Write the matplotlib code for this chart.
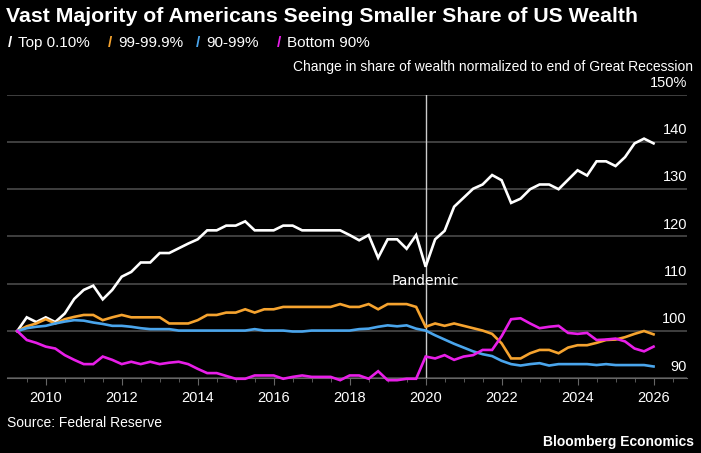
import matplotlib
matplotlib.use("Agg")
import matplotlib.pyplot as plt
import matplotlib.transforms as mtransforms
import numpy as np

# quarterly, 2009Q2 .. 2026Q1 (index 100 = end of Great Recession)
start_year = 2009.25
top_01 = [100, 102.9, 101.9, 102.9, 101.9, 103.7, 106.8, 108.7, 109.6, 106.7,
          108.7, 111.5, 112.5, 114.5, 114.5, 116.5, 116.5, 117.5, 118.5, 119.4,
          121.3, 121.3, 122.3, 122.3, 123.2, 121.3, 121.3, 121.3, 122.3, 122.3,
          121.3, 121.3, 121.3, 121.3, 121.3, 120.3, 119.2, 120.3, 115.5, 119.4,
          119.4, 117.4, 120.3, 113.6, 119.4, 121.2, 126.3, 128.2, 130.1, 131.0,
          133.0, 131.9, 127.1, 128.0, 130.0, 131.0, 131.0, 130.0, 132.0, 134.0,
          132.9, 135.9, 135.9, 134.9, 136.8, 139.7, 140.7, 139.7]
p99_999 = [100, 101.0, 101.6, 102.5, 101.6, 102.5, 103.0, 103.4, 103.4, 102.3,
           102.9, 103.4, 102.9, 102.9, 102.9, 102.9, 101.6, 101.6, 101.6, 102.3,
           103.4, 103.4, 103.9, 103.9, 104.6, 103.9, 104.6, 104.6, 105.1, 105.1,
           105.1, 105.1, 105.1, 105.1, 105.7, 105.1, 105.1, 105.7, 104.6, 105.7,
           105.7, 105.7, 105.1, 100.9, 101.6, 101.1, 101.6, 101.1, 100.6, 100.1,
           99.4, 97.4, 94.2, 94.2, 95.3, 96.0, 96.0, 95.3, 96.5, 97.0,
           97.0, 97.5, 98.1, 98.2, 98.7, 99.4, 100.0, 99.3]
p90_99 = [100, 100.6, 100.9, 101.1, 101.6, 102.0, 102.3, 102.2, 101.8, 101.5,
          101.1, 101.1, 100.9, 100.6, 100.4, 100.4, 100.4, 100.1, 100.1, 100.1,
          100.1, 100.1, 100.1, 100.1, 100.1, 100.4, 100.1, 100.1, 100.1, 99.9,
          99.9, 100.1, 100.1, 100.1, 100.1, 100.1, 100.4, 100.5, 100.9, 101.2,
          101.0, 101.2, 100.5, 100.1, 99.1, 98.2, 97.3, 96.5, 95.7, 95.1,
          94.7, 93.7, 93.0, 92.7, 93.0, 93.2, 92.7, 93.0, 93.0, 93.0,
          93.0, 92.8, 93.0, 92.8, 92.8, 92.8, 92.8, 92.5]
bottom_90 = [100, 98.1, 97.5, 96.7, 96.3, 94.9, 93.9, 93.0, 93.0, 94.6,
             93.9, 93.0, 93.5, 93.0, 93.5, 93.0, 93.3, 93.5, 93.0, 92.0,
             91.1, 91.1, 90.5, 89.9, 89.9, 90.6, 90.6, 90.6, 89.9, 90.3,
             90.6, 90.3, 90.3, 90.3, 89.6, 90.6, 90.6, 89.9, 91.5, 89.6,
             89.6, 89.9, 89.9, 94.6, 94.2, 94.9, 93.9, 94.6, 94.9, 96.0,
             96.0, 98.9, 102.5, 102.7, 101.6, 100.6, 100.9, 101.1, 99.6, 99.4,
             99.6, 98.1, 98.2, 98.4, 97.8, 96.3, 95.7, 96.7]

series_names = ["Top 0.10%", "99-99.9%", "90-99%", "Bottom 90%"]
series_colors = ["#ffffff", "#f5a32f", "#4aa5ec", "#e81ee8"]
y_ticks = [90, 100, 110, 120, 130, 140, 150]
x_ticks = [2010, 2012, 2014, 2016, 2018, 2020, 2022, 2024, 2026]

quarters = start_year + 0.25 * np.arange(len(top_01))

plt.rcParams["font.family"] = ["Liberation Sans", "DejaVu Sans"]

fig = plt.figure(figsize=(7.01, 4.53), dpi=100, facecolor="black")
ax = fig.add_axes([0.010, 0.1649, 0.970, 0.6261])
ax.set_facecolor("black")

for vals, color in zip([top_01, p99_999, p90_99, bottom_90], series_colors):
    ax.plot(quarters, vals, color=color, lw=1.9, solid_joinstyle="miter",
            zorder=3, clip_on=False)

ax.set_xlim(2008.98, 2026.88)
ax.set_ylim(90, 150)

for v in y_ticks:
    ax.axhline(v, color="#4a4a4a", lw=1.2, zorder=1)
trans = mtransforms.blended_transform_factory(ax.transAxes, ax.transData)
for v in y_ticks:
    label = f"{v}%" if v == 150 else str(v)
    ax.text(1.0, v + 1.0, label, transform=trans, ha="right", va="bottom",
            color="white", fontsize=10.5)

# pandemic marker
ax.axvline(2020, color="#cccccc", lw=1, zorder=2)
ax.text(2020, 110.5, "Pandemic", color="white", fontsize=10, ha="center",
        va="center", family="DejaVu Sans", zorder=4)

for s in ["top", "left", "right"]:
    ax.spines[s].set_visible(False)
ax.spines["bottom"].set_color("#666666")
ax.set_yticks([])
ax.set_xticks(x_ticks)
ax.set_xticks(np.arange(2009.5, 2027, 0.5), minor=True)
ax.tick_params(axis="x", which="major", colors="#666666", length=5, labelcolor="white",
               labelsize=10.5, pad=4)
ax.tick_params(axis="x", which="minor", colors="#666666", length=3)

# title, legend, notes
fig.text(0.009, 0.963, "Vast Majority of Americans Seeing Smaller Share of US Wealth",
         color="white", fontsize=15.3, fontweight="bold", va="center")
leg_x = [0.011, 0.154, 0.280, 0.395]
for x, name, color in zip(leg_x, series_names, series_colors):
    fig.text(x, 0.904, "/", color=color, fontsize=11, fontweight="bold", va="center")
    fig.text(x + 0.014, 0.904, name, color="white", fontsize=11, va="center")
fig.text(0.989, 0.852, "Change in share of wealth normalized to end of Great Recession",
         color="white", fontsize=10, ha="right", va="center")
fig.text(0.010, 0.066, "Source: Federal Reserve", color="white", fontsize=10, va="center")
fig.text(0.990, 0.025, "Bloomberg Economics", color="white", fontsize=10,
         fontweight="bold", ha="right", va="center")

fig.savefig("out.png", dpi=100, facecolor="black")
